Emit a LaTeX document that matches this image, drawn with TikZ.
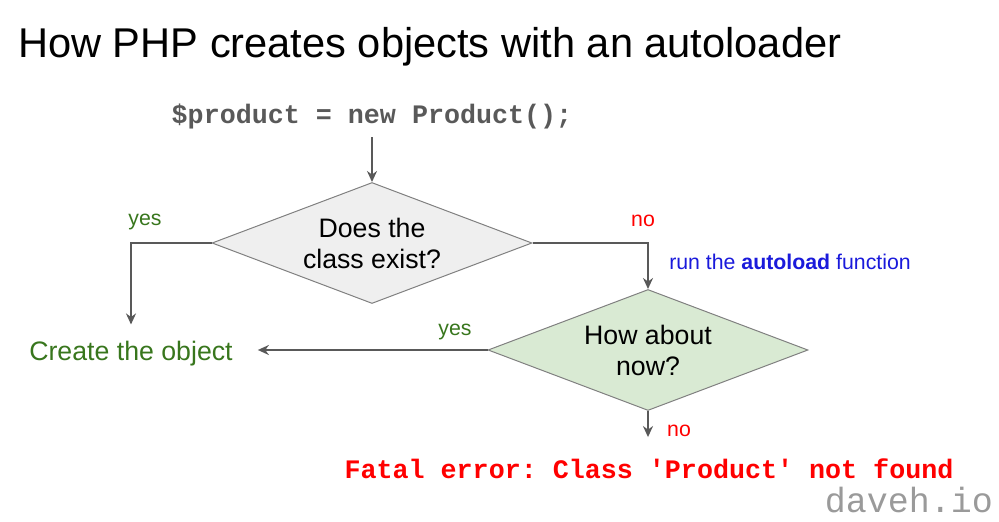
\documentclass[tikz,border=0pt]{standalone}
\usepackage{fontspec}
\setmainfont{Liberation Sans}
\setmonofont{Liberation Mono}
\usepackage{tikz}
\usetikzlibrary{positioning,arrows.meta,shapes.geometric}
\definecolor{fcLine}{HTML}{595959}
\definecolor{fcEdge}{HTML}{808080}
\definecolor{fcGrayL}{HTML}{EFEFEF}
\definecolor{fcGreenL}{HTML}{D9EAD3}
\definecolor{fcGreen}{HTML}{38761D}
\definecolor{fcRed}{HTML}{FF0000}
\definecolor{fcBlue}{HTML}{1A1ADB}
\definecolor{fcCode}{HTML}{595959}
\definecolor{fcMark}{HTML}{9A9A9A}
\tikzset{
  fc-decision/.style={
    diamond, draw=fcEdge, line width=1pt, aspect=2.65,
    inner sep=0pt, minimum width=320pt, minimum height=121pt,
    align=center, font=\fontsize{26.7}{31}\selectfont
  },
  fc-gray/.style={fc-decision, fill=fcGrayL},
  fc-green/.style={fc-decision, fill=fcGreenL},
  fc-flow/.style={-{Stealth[length=11pt,width=10pt]}, line width=2.2pt, draw=fcLine},
  fc-small/.style={font=\fontsize{21.3}{25}\selectfont, inner sep=0pt},
  fc-yes/.style={fc-small, text=fcGreen},
  fc-no/.style={fc-small, text=fcRed},
  fc-code/.style={font=\ttfamily\bfseries\fontsize{26.7}{31}\selectfont}
}
\begin{document}
\begin{tikzpicture}[x=1pt, y=-1pt]
\useasboundingbox (0,0) rectangle (999,522);
% Title
\node[anchor=base west, inner sep=0pt, font=\fontsize{41.6}{48}\selectfont] (title)
  at (18,57) {How PHP creates objects with an autoloader};

% Code and decisions
\node[fc-code, text=fcCode, anchor=base, inner sep=8.5pt] (code)
  at (372,123) {\$product = new Product();};
\node[fc-gray] (exist) at (372,243) {Does the\\ class exist?};
\node[fc-green] (now) at (648,350) {How about\\ now?};

% Outcomes
\node[anchor=base, inner xsep=25pt, inner ysep=16pt, text=fcGreen,
  font=\fontsize{26.7}{31}\selectfont] (create) at (131,360) {Create the object};
\node[fc-code, text=fcRed, anchor=base, inner xsep=0pt, inner ysep=21pt] (fatal)
  at (649,478) {Fatal error: Class 'Product' not found};

% Labels
\node[fc-yes] (yesA) at (145,222) {yes};
\node[fc-no] (noA) at (643,221) {no};
\node[fc-small, text=fcBlue] (autoload) at (790,262)
  {run the \textbf{autoload} function};
\node[fc-yes] (yesB) at (455,332) {yes};
\node[fc-no] (noB) at (679,431) {no};
\node[font=\ttfamily\fontsize{35}{40}\selectfont, text=fcMark, inner sep=0pt] (mark)
  at (909,500) {daveh.io};

\draw[fc-flow] (code.south) -- (exist.north);
\draw[fc-flow] (exist.west) -| (create.north);
\draw[fc-flow] (exist.east) -| (now.north);
\draw[fc-flow] (now.west) -- (now.west -| create.east);
\draw[fc-flow] (now.south) -- (now.south |- fatal.north);
\end{tikzpicture}
\end{document}
